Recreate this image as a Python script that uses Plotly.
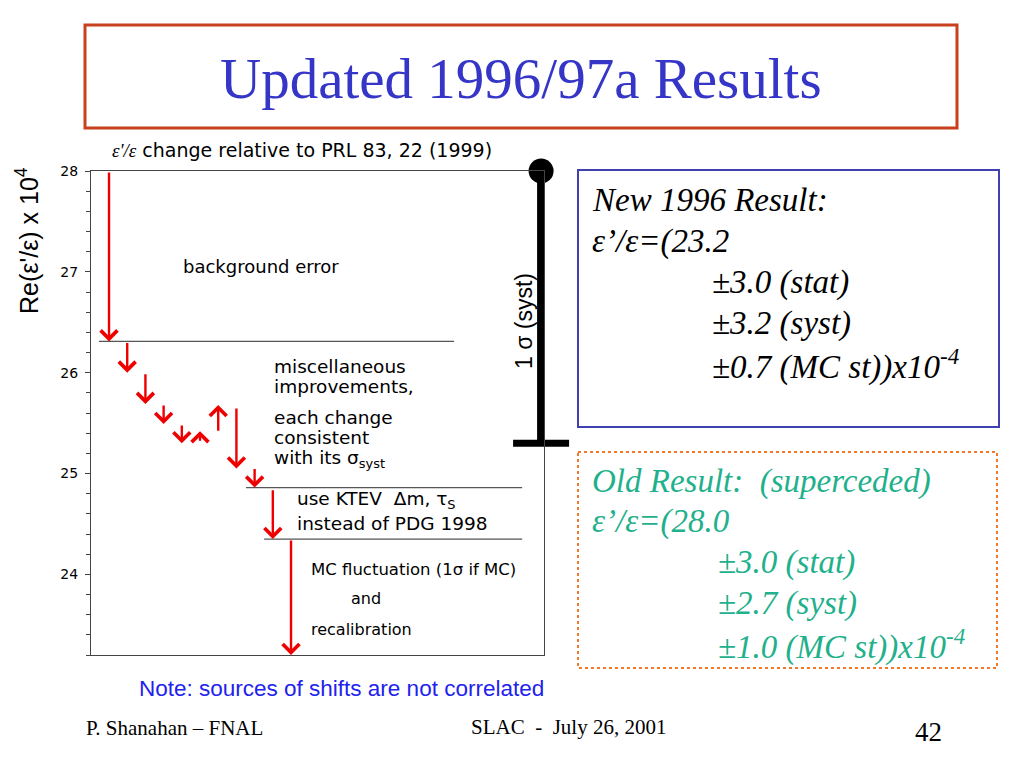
import plotly.graph_objects as go

# ---------------- data ----------------
# cumulative value of Re(eps'/eps) x 1e4 after each change (step index 0..11)
step_values = [28.0, 26.31, 26.0, 25.69, 25.49, 25.30, 25.42, 25.68, 25.05, 24.86, 24.35, 23.2]
# start (tail) and end (head) value of each red shift arrow
arrow_tails = [28.0, 26.31, 26.0, 25.69, 25.49, 25.31, 25.41, 25.66, 25.06, 24.85, 24.35]
arrow_heads = [26.31, 26.0, 25.69, 25.49, 25.30, 25.42, 25.68, 25.05, 24.86, 24.35, 23.2]
arrow_steps = [0, 1, 2, 3, 4, 5, 6, 7, 8, 9, 10]

# horizontal reference levels (index into step_values)
level_index = [1, 9, 10]
level_x0 = [-0.55, 7.53, 8.52]
level_x1 = [18.96, 22.7, 22.7]

old_central = 28.0
old_syst = 2.7

y_ticks = [24, 25, 26, 27, 28]
y_range = [23.2, 28.0]
x_range = [-0.99, 23.9]
errbar_x = 23.74

new_lines = ["New 1996 Result:", "ε’/ε=(23.2", "±3.0 (stat)", "±3.2 (syst)", "±0.7 (MC st))x10<sup>-4</sup>"]
old_lines = ["Old Result:  (superceded)", "ε’/ε=(28.0", "±3.0 (stat)", "±2.7 (syst)", "±1.0 (MC st))x10<sup>-4</sup>"]

# ---------------- layout helpers ----------------
OFF = 8  # page body margin
W, H = 1024 - OFF, 768 - OFF
L, R, T, B = 91, 544, 171, 655   # plot frame in screen pixels


def px(x):
    return (x - L) / (R - L)


def py(y):
    return (B - y) / (B - T)


SANS = "DejaVu Sans"
ARIAL = "Liberation Sans"
SERIF = "Liberation Serif"
RED = "#ee0000"

fig = go.Figure()

# level lines
for idx, x0, x1 in zip(level_index, level_x0, level_x1):
    fig.add_trace(go.Scatter(x=[x0, x1], y=[step_values[idx], step_values[idx]], mode="lines",
                             line=dict(color="#555555", width=1.2), hoverinfo="skip", showlegend=False))

# 1 sigma syst error bar
fig.add_trace(go.Scatter(x=[errbar_x, errbar_x], y=[old_central, old_central - old_syst], mode="lines",
                         line=dict(color="black", width=8), cliponaxis=False, showlegend=False, hoverinfo="skip"))
fig.add_trace(go.Scatter(x=[errbar_x], y=[old_central], mode="markers",
                         marker=dict(symbol="circle", size=25, color="black"), cliponaxis=False,
                         showlegend=False, hoverinfo="skip"))
fig.add_trace(go.Scatter(x=[errbar_x], y=[old_central - old_syst], mode="markers",
                         marker=dict(symbol="line-ew", size=40, line=dict(color="black", width=7)),
                         cliponaxis=False, showlegend=False, hoverinfo="skip"))

annotations = []
# arrows
for s, y0, y1 in zip(arrow_steps, arrow_tails, arrow_heads):
    annotations.append(dict(x=s, y=y1, ax=s, ay=y0, xref="x", yref="y", axref="x", ayref="y",
                            text="", showarrow=True, arrowhead=4, arrowsize=1.35, arrowwidth=2.4,
                            arrowcolor=RED, standoff=0, startstandoff=0))


def txt(x, y, text, size, family=SANS, color="black", anchor="left", angle=0, style="normal"):
    annotations.append(dict(x=px(x), y=py(y), xref="paper", yref="paper", text=text, showarrow=False,
                            xanchor=anchor, yanchor="middle", textangle=angle,
                            font=dict(family=family, size=size, color=color, style=style)))


txt(110, 150, "<span style='font-family:Liberation Serif'><i>ε'/ε</i></span> change relative to PRL 83, 22 (1999)", 19)
txt(27, 241, "Re(ε'/ε) x 10<sup>4</sup>", 25, family=ARIAL, anchor="center", angle=-90)
txt(181, 266, "background error", 18)
txt(272, 366, "miscellaneous", 18.5)
txt(272, 386, "improvements,", 18.5)
txt(272, 417, "each change", 18.5)
txt(272, 437, "consistent", 18.5)
txt(272, 459, "with its σ<sub>syst</sub>", 18.5)
txt(295, 500, "use KTEV  Δm, τ<sub>S</sub>", 18.5)
txt(295, 523, "instead of PDG 1998", 18.5)
txt(309, 569, "MC fluctuation (1σ if MC)", 16.5)
txt(349, 598, "and", 16)
txt(309, 629, "recalibration", 16)
txt(524, 321, "1 σ (syst)", 23, family=ARIAL, anchor="center", angle=-90)
txt(137, 688, "Note: sources of shifts are not correlated", 22.5, family=ARIAL, color="#2222ee")

# slide title
txt(521, 79, "Updated 1996/97a Results", 57, family=SERIF, color="#3535c8", anchor="center")

# result boxes
new_y = [200, 241, 282, 323, 364]
new_x = [590, 590, 710, 710, 710]
for x, y, t in zip(new_x, new_y, new_lines):
    txt(x, y, t, 33, family=SERIF, color="black", style="italic")
old_y = [481, 521, 562, 603, 644]
old_x = [590, 590, 716, 716, 716]
for x, y, t in zip(old_x, old_y, old_lines):
    txt(x, y, t, 33, family=SERIF, color="#1fb08c", style="italic")

# footer
txt(84, 728, "P. Shanahan – FNAL", 21, family=SERIF)
txt(469, 727, "SLAC  -  July 26, 2001", 21, family=SERIF)
txt(928, 732, "42", 27, family=SERIF, anchor="center")

shapes = [
    dict(type="rect", xref="paper", yref="paper", x0=px(85), x1=px(957), y0=py(25), y1=py(128),
         line=dict(color="#c8401e", width=3)),
    dict(type="rect", xref="paper", yref="paper", x0=px(578), x1=px(999), y0=py(170), y1=py(427),
         line=dict(color="#4040b0", width=2)),
    dict(type="rect", xref="paper", yref="paper", x0=px(578), x1=px(997), y0=py(452), y1=py(668),
         line=dict(color="#f07828", width=2, dash="dot")),
]

fig.update_layout(
    width=W, height=H, autosize=False,
    margin=dict(l=L - OFF, r=W - (R - OFF), t=T - OFF, b=H - (B - OFF), pad=0),
    paper_bgcolor="white", plot_bgcolor="white",
    annotations=annotations, shapes=shapes, showlegend=False,
    xaxis=dict(range=x_range, showgrid=False, zeroline=False, showticklabels=False, ticks="",
               showline=True, mirror=True, linecolor="#444444", linewidth=1, fixedrange=True),
    yaxis=dict(range=y_range, tickvals=y_ticks, showgrid=False, zeroline=False, ticks="outside",
               ticklen=5, tickcolor="#444444", showline=True, mirror=True, linecolor="#444444",
               linewidth=1, tickfont=dict(family=SANS, size=14, color="black"), ticklabelstandoff=4,
               minor=dict(dtick=0.2, tick0=24, ticks="outside", ticklen=4, tickcolor="#444444"),
               fixedrange=True),
)

fig.write_html("out.html")
